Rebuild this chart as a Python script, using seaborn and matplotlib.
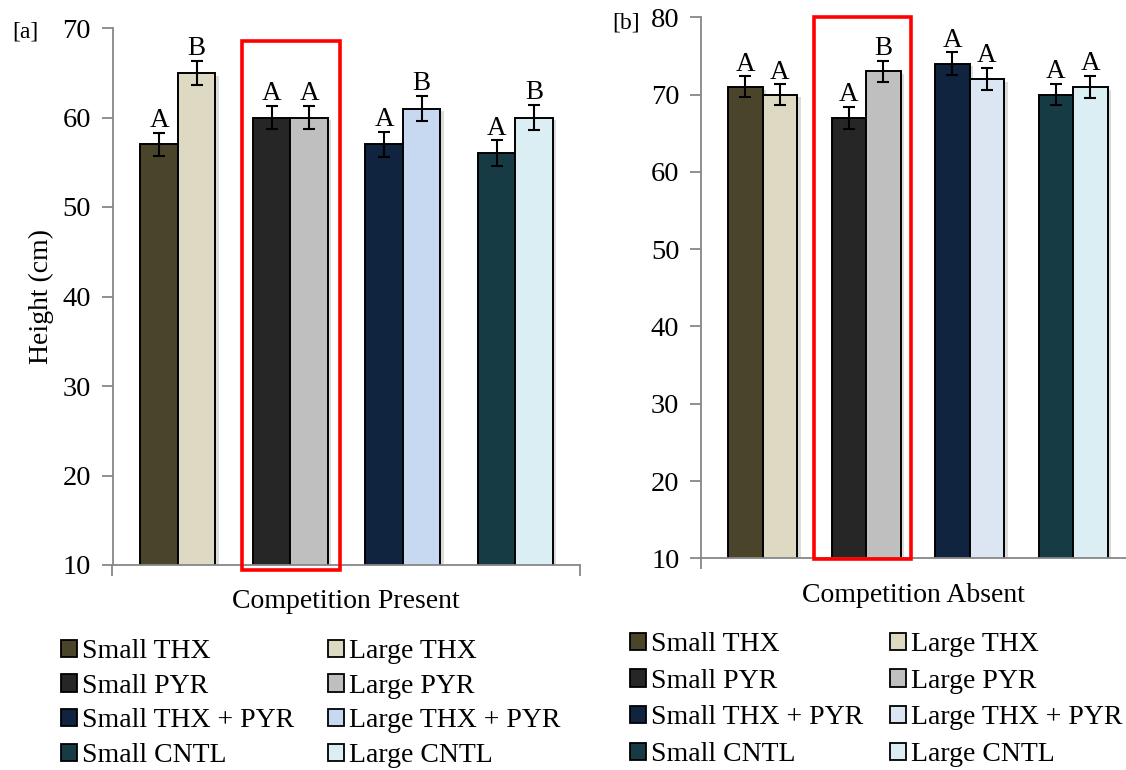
import matplotlib
matplotlib.use("Agg")
import matplotlib.pyplot as plt
import matplotlib.patheffects as pe
from matplotlib.patches import Patch, Rectangle
import pandas as pd
import seaborn as sns

# Treatments and plant sizes
groups = ["THX", "PYR", "THX + PYR", "CNTL"]
sizes = ["Small", "Large"]

# Competition present: mean height (cm), standard error, letter group
present_small = [57, 60, 57, 56]
present_large = [65, 60, 61, 60]
present_small_se = [1.3, 1.3, 1.4, 1.45]
present_large_se = [1.35, 1.3, 1.4, 1.4]
present_small_letters = ["A", "A", "A", "A"]
present_large_letters = ["B", "A", "B", "B"]

# Competition absent
absent_small = [71, 67, 74, 70]
absent_large = [70, 73, 72, 71]
absent_small_se = [1.35, 1.4, 1.5, 1.4]
absent_large_se = [1.35, 1.4, 1.45, 1.4]
absent_small_letters = ["A", "A", "A", "A"]
absent_large_letters = ["A", "B", "A", "A"]

# Fill colours per treatment
small_colors = ["#4a452a", "#262626", "#10243f", "#173b45"]
large_colors_present = ["#ddd9c3", "#bfbfbf", "#c6d9f0", "#daeef3"]
large_colors_absent = ["#ddd9c3", "#bfbfbf", "#dce6f2", "#daeef3"]

sns.set_theme(style="white")
plt.rcParams["font.family"] = ["Liberation Serif", "DejaVu Serif"]
plt.rcParams["mathtext.fontset"] = "stix"
plt.rcParams["text.color"] = "black"
plt.rcParams["axes.labelcolor"] = "black"
plt.rcParams["ytick.labelcolor"] = "black"
plt.rcParams["xtick.labelcolor"] = "black"

AXIS_GREY = "#878787"
shadow = [pe.SimplePatchShadow(offset=(2.5, -2), shadow_rgbFace="#9a9a9a", alpha=0.35), pe.Normal()]


def make_frame(small, large):
    rows = []
    for g, s, l in zip(groups, small, large):
        rows.append({"treatment": g, "size": "Small", "height": s})
        rows.append({"treatment": g, "size": "Large", "height": l})
    return pd.DataFrame(rows)


def draw_panel(ax, small, large, small_se, large_se, small_let, large_let,
               large_colors, ylim, xlim, xlabel, tick_pad, end_tick=True):
    df = make_frame(small, large)
    sns.barplot(data=df, x="treatment", y="height", hue="size", order=groups,
                hue_order=sizes, width=2 / 3, errorbar=None, dodge=True,
                edgecolor="black", linewidth=1.4, legend=False, ax=ax, saturation=1)
    bar_containers = list(ax.containers)
    fills = [small_colors, large_colors]
    errs = [small_se, large_se]
    lets = [small_let, large_let]
    vals = [small, large]
    for k, cont in enumerate(bar_containers):
        for j, bar in enumerate(cont.patches):
            bar.set_facecolor(fills[k][j])
            bar.set_path_effects(shadow)
            xc = bar.get_x() + bar.get_width() / 2
            ax.errorbar(xc, vals[k][j], yerr=errs[k][j], fmt="none", ecolor="black",
                        elinewidth=1.5, capsize=4.2, capthick=1.5, zorder=5)
            ax.annotate(lets[k][j], (xc, vals[k][j] + errs[k][j]), xytext=(0, 4),
                        textcoords="offset points", ha="center", va="baseline",
                        fontsize=19.5, color="black")
    ax.set_ylim(*ylim)
    ax.set_xlim(*xlim)
    ax.set_yticks(range(ylim[0], ylim[1] + 1, 10))
    ax.set_xticks([xlim[0], xlim[1]] if end_tick else [xlim[0]])
    ax.set_xticklabels([])
    ax.tick_params(axis="y", labelsize=20.5, length=8, width=1.3, color=AXIS_GREY,
                   labelcolor="black", direction="out", pad=tick_pad, left=True)
    ax.tick_params(axis="x", length=8, width=1.3, color=AXIS_GREY, direction="out",
                   bottom=True)
    for side in ("top", "right"):
        ax.spines[side].set_visible(False)
    for side in ("left", "bottom"):
        ax.spines[side].set_color(AXIS_GREY)
        ax.spines[side].set_linewidth(1.3)
    ax.set_xlabel(xlabel, fontsize=20, labelpad=6, color="black")
    ax.set_ylabel("")


W, H = 1126, 770
fig = plt.figure(figsize=(W / 100, H / 100), dpi=100)
ax_a = fig.add_axes([112.5 / W, 1 - 565 / H, 467.5 / W, (565 - 28) / H])
ax_b = fig.add_axes([701 / W, 1 - 558.3 / H, 425 / W, (558.3 - 17.3) / H])

draw_panel(ax_a, present_small, present_large, present_small_se, present_large_se,
           present_small_letters, present_large_letters, large_colors_present,
           (10, 70), (-0.581, 3.574), "Competition Present", tick_pad=7.5)
draw_panel(ax_b, absent_small, absent_large, absent_small_se, absent_large_se,
           absent_small_letters, absent_large_letters, large_colors_absent,
           (10, 80), (-0.596, 3.51), "Competition Absent", tick_pad=7.5, end_tick=False)

ax_a.set_ylabel("Height (cm)", fontsize=20, color="black")
ax_a.yaxis.set_label_coords((54 - 112.5) / 467.5, 0.5)

# Highlight around the PYR pair
for ax, (x0, x1, y0, y1) in ((ax_a, (0.574, 1.445, 9.44, 68.55)),
                             (ax_b, (0.493, 1.433, 9.9, 80.0))):
    rect = Rectangle((x0, y0), x1 - x0, y1 - y0, fill=False, edgecolor="#ff0000",
                     linewidth=2.6, clip_on=False, zorder=6)
    ax.add_patch(rect)

fig.text(12 / W, 1 - 32 / H, "[a]", fontsize=17, va="center", ha="left", color="black")
fig.text(612 / W, 1 - 23 / H, "[b]", fontsize=17, va="center", ha="left", color="black")


def legend_for(anchor, large_colors, colspace, rowspace):
    labels = [f"Small {g}" for g in groups] + [f"Large {g}" for g in groups]
    cols = small_colors + large_colors
    handles = [Patch(facecolor=c, edgecolor="black", linewidth=1.3) for c in cols]
    leg = fig.legend(handles, labels, loc="upper left", bbox_to_anchor=anchor, ncol=2,
                     frameon=False, fontsize=20, handlelength=0.58,
                     handleheight=0.58, handletextpad=0.18,
                     columnspacing=colspace, labelspacing=rowspace,
                     borderpad=0, borderaxespad=0)
    for t in leg.get_texts():
        t.set_color("black")


legend_for((61 / W, 1 - 639 / H), large_colors_present, 1.22, 0.35)
legend_for((630 / W, 1 - 632 / H), large_colors_absent, 0.97, 0.42)

fig.savefig("out.png", dpi=100, facecolor="white")
